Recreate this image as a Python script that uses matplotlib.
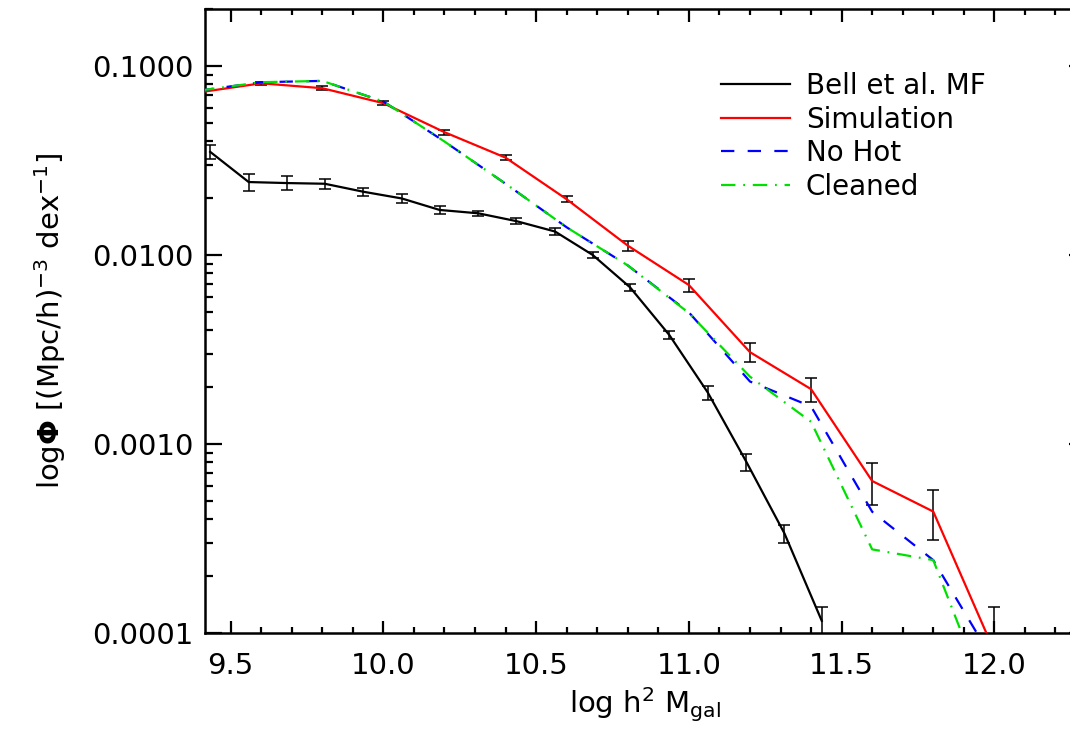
import numpy as np
import matplotlib
matplotlib.use("Agg")
import matplotlib.pyplot as plt
from matplotlib.lines import Line2D
from matplotlib.ticker import FixedLocator, LogLocator, FormatStrFormatter, NullFormatter

# Bell et al. mass function (with errors)
bell_x = [9.433, 9.559, 9.685, 9.808, 9.934, 10.060, 10.184, 10.311, 10.435,
          10.562, 10.685, 10.807, 10.936, 11.062, 11.188, 11.313, 11.435]
bell_y = [0.0351, 0.0243, 0.0240, 0.0238, 0.0216, 0.0199, 0.0173, 0.0166, 0.0151,
          0.0133, 0.0100, 0.00675, 0.00377, 0.00187, 0.000805, 0.000336, 0.000116]
bell_err = [0.0030, 0.0025, 0.0020, 0.0015, 0.0011, 0.0011, 0.00093, 0.00058, 0.0005,
            0.0005, 0.00037, 0.00028, 0.00017, 0.00016, 0.000082, 0.000037, 0.000021]

# simulation bins
sim_x = [9.4, 9.6, 9.8, 10.0, 10.2, 10.4, 10.6, 10.8, 11.0, 11.2, 11.4, 11.6, 11.8, 12.0]
sim_y = [0.0726, 0.0809, 0.0762, 0.0635, 0.0446, 0.0327, 0.0197, 0.0112,
         0.00693, 0.00306, 0.00195, 0.000637, 0.000439, 0.000080]
sim_err = [0.0020, 0.0017, 0.0019, 0.0016, 0.00125, 0.0011, 0.00073, 0.0007,
           0.00054, 0.00036, 0.00028, 0.00016, 0.00013, 0.000057]
nohot_y = [0.0741, 0.0820, 0.0833, 0.0648, 0.0398, 0.0238, 0.0140, 0.0088,
           0.00497, 0.00214, 0.00158, 0.000438, 0.000243, 0.000070]
cleaned_y = [0.0741, 0.0820, 0.0833, 0.0648, 0.0398, 0.0238, 0.0140, 0.0088,
             0.00493, 0.00227, 0.00131, 0.000277, 0.000243, 0.000036]

labels = ["Bell et al. MF", "Simulation", "No Hot", "Cleaned"]
colors = ["black", "red", "blue", "#00e000"]
styles = ["-", "-", (0, (6, 6)), (0, (6.5, 3.5, 0.8, 3.5))]

plt.rcParams["font.family"] = "DejaVu Sans"
plt.rcParams["mathtext.fontset"] = "dejavusans"

W, H = 1070, 735
fig = plt.figure(figsize=(W / 100, H / 100), dpi=100)
ax = fig.add_axes([205 / W, 1 - 633 / H, (1086 - 205) / W, (633 - 9) / H])

ax.errorbar(bell_x, bell_y, yerr=bell_err, color=colors[0], lw=1.6,
            ecolor="black", elinewidth=1.1, capsize=4, capthick=1.1, zorder=3)
ax.errorbar(sim_x, sim_y, yerr=sim_err, color=colors[1], lw=1.6,
            ecolor="black", elinewidth=1.1, capsize=4, capthick=1.1, zorder=3)
ax.plot(sim_x, nohot_y, color=colors[2], lw=1.6, ls=styles[2], zorder=4)
ax.plot(sim_x, cleaned_y, color=colors[3], lw=1.6, ls=styles[3], zorder=5)

ax.set_yscale("log")
ax.set_xlim(9.416, 12.3)
ax.set_ylim(1e-4, 0.2)

ax.xaxis.set_major_locator(FixedLocator([9.5, 10.0, 10.5, 11.0, 11.5, 12.0]))
ax.xaxis.set_minor_locator(FixedLocator(np.arange(9.5, 12.31, 0.1)))
ax.xaxis.set_major_formatter(FormatStrFormatter("%.1f"))
ax.yaxis.set_major_locator(FixedLocator([1e-4, 1e-3, 1e-2, 1e-1]))
ax.yaxis.set_minor_locator(LogLocator(base=10, subs=np.arange(2, 10)))
ax.yaxis.set_major_formatter(FormatStrFormatter("%.4f"))
ax.yaxis.set_minor_formatter(NullFormatter())

ax.tick_params(axis="both", which="both", direction="in", top=True, right=True, width=1.6)
ax.tick_params(axis="x", which="major", length=9, pad=14, labelsize=21)
ax.tick_params(axis="x", which="minor", length=4.5)
ax.tick_params(axis="y", which="major", length=12.5, pad=8, labelsize=21)
ax.tick_params(axis="y", which="minor", length=6)
for s in ax.spines.values():
    s.set_linewidth(1.8)

ax.set_xlabel(r"log h$^2$ M$_{\rm gal}$", fontsize=21, labelpad=4)
ax.set_ylabel(r"log$\mathbf{\Phi}$ [(Mpc/h)$^{-3}$ dex$^{-1}$]", fontsize=21, labelpad=18)

# legend shows plain line samples, no error bars
handles = [Line2D([], [], color=c, lw=1.6, ls=s) for c, s in zip(colors, styles)]
ax.legend(handles, labels, loc="upper left", bbox_to_anchor=(721 / W, 1 - 72 / H),
          bbox_transform=fig.transFigure, frameon=False, fontsize=20,
          handlelength=2.5, handletextpad=0.55, labelspacing=0.2, borderaxespad=0,
          borderpad=0)

fig.savefig("out.png", dpi=100)
